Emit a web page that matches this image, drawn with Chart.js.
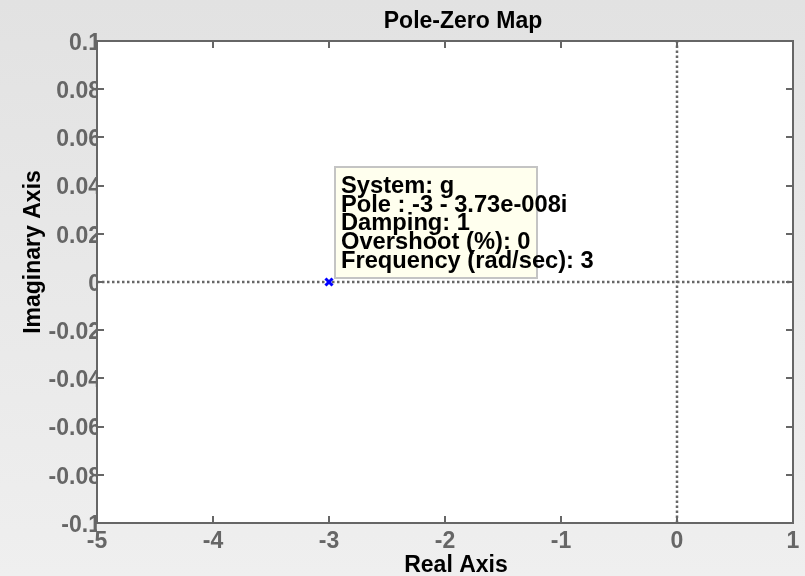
<!DOCTYPE html>
<html>
<head>
<meta charset="utf-8">
<script src="https://cdn.jsdelivr.net/npm/chart.js@4/dist/chart.umd.min.js"></script>
<style>
	html, body { margin: 0; padding: 0; }
	body {
		width: 805px;
		height: 576px;
		background: linear-gradient(#e2e2e2, #efefef);
		overflow: hidden;
	}
	canvas { display: block; }
</style>
</head>
<body>
<canvas id="pzmap" width="805" height="576"></canvas>
<script>
// pole location (real, imaginary)
var poleRe = [-3];
var poleIm = [0];

var xTicks = [-5, -4, -3, -2, -1, 0, 1];
var yTicks = [-0.1, -0.08, -0.06, -0.04, -0.02, 0, 0.02, 0.04, 0.06, 0.08, 0.1];

var chartTitle = 'Pole-Zero Map';
var xTitle = 'Real Axis';
var yTitle = 'Imaginary Axis';

var tipLines = [
	'System: g',
	'Pole : -3 - 3.73e-008i',
	'Damping: 1',
	'Overshoot (%): 0',
	'Frequency (rad/sec): 3'
];

var FONT = '"Liberation Sans", Arial, Helvetica, sans-serif';
var AXIS_GREY = '#666666';

var xMin = xTicks[0], xMax = xTicks[xTicks.length - 1];
var yMin = yTicks[0], yMax = yTicks[yTicks.length - 1];

var poleData = poleRe.map(function (re, i) {
	return { x: re, y: poleIm[i] };
});

function fmtTick(v) {
	return String(parseFloat(v.toFixed(2)));
}

// white plot area, inward ticks, box, titles and the data tip
var pzPlugin = {
	id: 'pzPlugin',
	beforeDraw: function (chart) {
		var a = chart.chartArea;
		var ctx = chart.ctx;
		ctx.save();
		ctx.fillStyle = '#ffffff';
		ctx.fillRect(a.left, a.top, a.right - a.left, a.bottom - a.top);
		ctx.restore();
	},
	afterDatasetsDraw: function (chart) {
		var a = chart.chartArea;
		var ctx = chart.ctx;
		var xs = chart.scales.x, ys = chart.scales.y;
		var midX = (a.left + a.right) / 2;
		var midY = (a.top + a.bottom) / 2;
		ctx.save();

		// ticks
		ctx.strokeStyle = AXIS_GREY;
		ctx.lineWidth = 2;
		ctx.beginPath();
		xTicks.forEach(function (v) {
			var px = Math.round(xs.getPixelForValue(v));
			ctx.moveTo(px, a.bottom); ctx.lineTo(px, a.bottom - 7);
			ctx.moveTo(px, a.top); ctx.lineTo(px, a.top + 7);
		});
		yTicks.forEach(function (v) {
			var py = Math.round(ys.getPixelForValue(v));
			ctx.moveTo(a.left, py); ctx.lineTo(a.left + 7, py);
			ctx.moveTo(a.right, py); ctx.lineTo(a.right - 7, py);
		});
		ctx.stroke();
		ctx.strokeRect(a.left, a.top, a.right - a.left, a.bottom - a.top);

		// titles
		ctx.fillStyle = '#000000';
		ctx.font = 'bold 23px ' + FONT;
		ctx.textAlign = 'center';
		ctx.textBaseline = 'alphabetic';
		ctx.fillText(chartTitle, midX + 18, 28);
		ctx.fillText(xTitle, midX + 11, 572);
		ctx.save();
		ctx.translate(40, midY - 30);
		ctx.rotate(-Math.PI / 2);
		ctx.fillText(yTitle, 0, 0);
		ctx.restore();

		// data tip
		var px = xs.getPixelForValue(poleRe[0]);
		var py = ys.getPixelForValue(poleIm[0]);
		var bx = px + 6, by = py - 115, bw = 202, bh = 111;
		ctx.fillStyle = '#ffffee';
		ctx.fillRect(bx, by, bw, bh);
		ctx.strokeStyle = '#c4c4c4';
		ctx.lineWidth = 2;
		ctx.strokeRect(bx, by, bw, bh);
		ctx.fillStyle = '#000000';
		ctx.font = 'bold 23.7px ' + FONT;
		ctx.textAlign = 'left';
		tipLines.forEach(function (t, i) {
			ctx.fillText(t, bx + 6, by + 26 + i * 18.7);
		});
		ctx.restore();
	}
};

var chartConfig = {
	type: 'scatter',
	data: {
		datasets: [{
			label: 'pole',
			data: poleData,
			pointStyle: 'crossRot',
			pointRadius: 5,
			pointBorderWidth: 3,
			borderColor: '#0000ff',
			backgroundColor: '#0000ff'
		}, {
			label: 'real axis',
			type: 'line',
			data: [{ x: xMin, y: 0 }, { x: xMax, y: 0 }],
			borderColor: AXIS_GREY,
			borderWidth: 2.5,
			borderDash: [2.5, 2.5],
			pointRadius: 0
		}, {
			label: 'imag axis',
			type: 'line',
			data: [{ x: 0, y: yMin }, { x: 0, y: yMax }],
			borderColor: AXIS_GREY,
			borderWidth: 2.5,
			borderDash: [2.5, 2.5],
			pointRadius: 0
		}]
	},
	options: {
		responsive: false,
		animation: false,
		layout: {
			padding: { top: 41, right: 12, left: 0, bottom: 0 }
		},
		plugins: {
			legend: { display: false },
			tooltip: { enabled: false },
			title: { display: false }
		},
		scales: {
			x: {
				type: 'linear',
				min: xMin,
				max: xMax,
				afterBuildTicks: function (s) {
					s.ticks = xTicks.map(function (v) { return { value: v }; });
				},
				afterFit: function (s) { s.height = 53; },
				grid: { display: false, drawTicks: false },
				border: { display: false },
				ticks: {
					color: AXIS_GREY,
					padding: 5,
					maxRotation: 0,
					font: { family: FONT, size: 23, weight: 'bold' },
					callback: function (v) { return fmtTick(v); }
				}
			},
			y: {
				type: 'linear',
				min: yMin,
				max: yMax,
				afterBuildTicks: function (s) {
					s.ticks = yTicks.map(function (v) { return { value: v }; });
				},
				afterFit: function (s) { s.width = 97; },
				grid: { display: false, drawTicks: false },
				border: { display: false },
				ticks: {
					color: AXIS_GREY,
					padding: -4,
					labelOffset: 2.5,
					font: { family: FONT, size: 23, weight: 'bold' },
					callback: function (v) { return fmtTick(v); }
				}
			}
		}
	},
	plugins: [pzPlugin]
};

var chart = new Chart(document.getElementById('pzmap'), chartConfig);
</script>
</body>
</html>
